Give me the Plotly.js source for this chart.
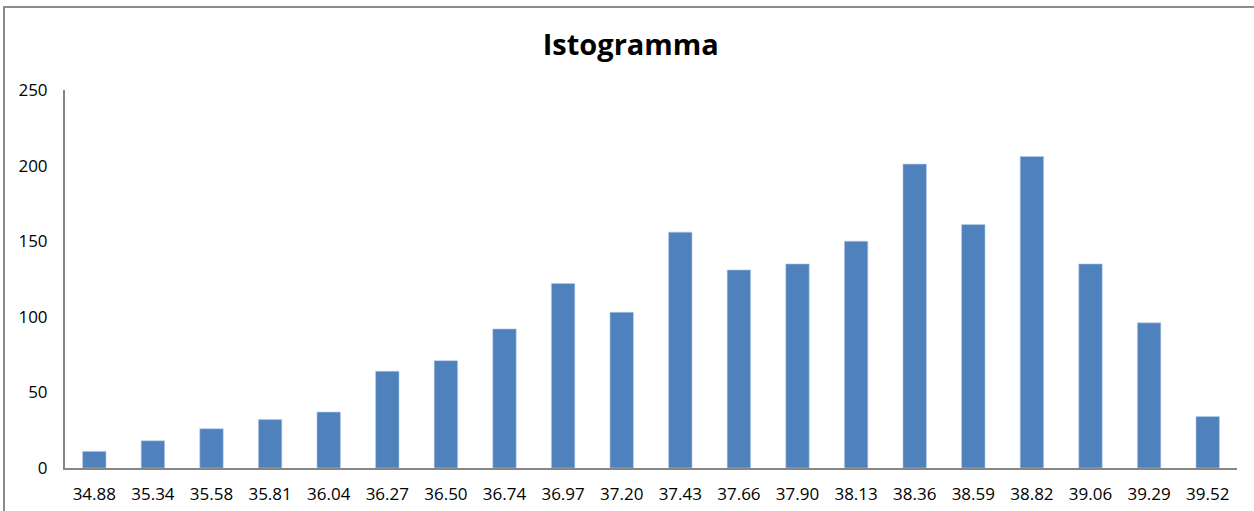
<!DOCTYPE html>
<html>
<head>
<meta charset="utf-8">
<script src="https://cdn.plot.ly/plotly-3.0.1.min.js"></script>
<style>html,body{margin:0;padding:0;background:#fff;}#chart{width:1254px;height:511px;}</style>
</head>
<body>
<div id="chart"></div>
<script>
const categories = ["34.88","35.34","35.58","35.81","36.04","36.27","36.50","36.74","36.97","37.20","37.43","37.66","37.90","38.13","38.36","38.59","38.82","39.06","39.29","39.52"];
const frequencies = [11,18,26,32,37,64,71,92,122,103,156,131,135,150,201,161,206,135,96,34];
const yTicks = [0,50,100,150,200,250];
const titleText = "Istogramma";

const W = 1254, H = 511;
const m = {l: 65, r: 17, t: 90, b: 43};
const pw = W - m.l - m.r, ph = H - m.t - m.b;
// outer frame in paper coordinates
const fx0 = (4 - m.l) / pw, fy1 = (H - m.b - 7) / ph;

Plotly.newPlot('chart', [{
  type: 'bar',
  x: categories,
  y: frequencies,
  marker: {color: '#4F81BD', line: {color: '#B9CDE5', width: 0.6}},
  hoverinfo: 'x+y'
}], {
  width: W, height: H,
  margin: m,
  paper_bgcolor: '#fff', plot_bgcolor: '#fff',
  bargap: 0.6,
  showlegend: false,
  font: {family: 'Open Sans, Liberation Sans, sans-serif', size: 17, color: '#000'},
  title: {text: '<b>' + titleText + '</b>', font: {family: 'Open Sans, sans-serif', size: 29, color: '#000'}, x: 0.503, xanchor: 'center', y: 0.913, yanchor: 'middle'},
  xaxis: {
    type: 'category', showline: true, linecolor: '#868686', linewidth: 2,
    showgrid: false, ticks: '', ticklabelstandoff: 10, tickfont: {size: 17}
  },
  yaxis: {
    range: [0, 250], tickvals: yTicks, showline: true, linecolor: '#868686', linewidth: 2,
    showgrid: false, zeroline: false, ticks: '', ticklabelstandoff: 12, tickfont: {size: 17}
  },
  shapes: [{
    type: 'path', xref: 'paper', yref: 'paper',
    path: `M ${fx0} -0.3 L ${fx0} ${fy1} L 1.1 ${fy1}`,
    line: {color: '#8C8C8C', width: 2}
  }]
}, {displayModeBar: false});
</script>
</body>
</html>
